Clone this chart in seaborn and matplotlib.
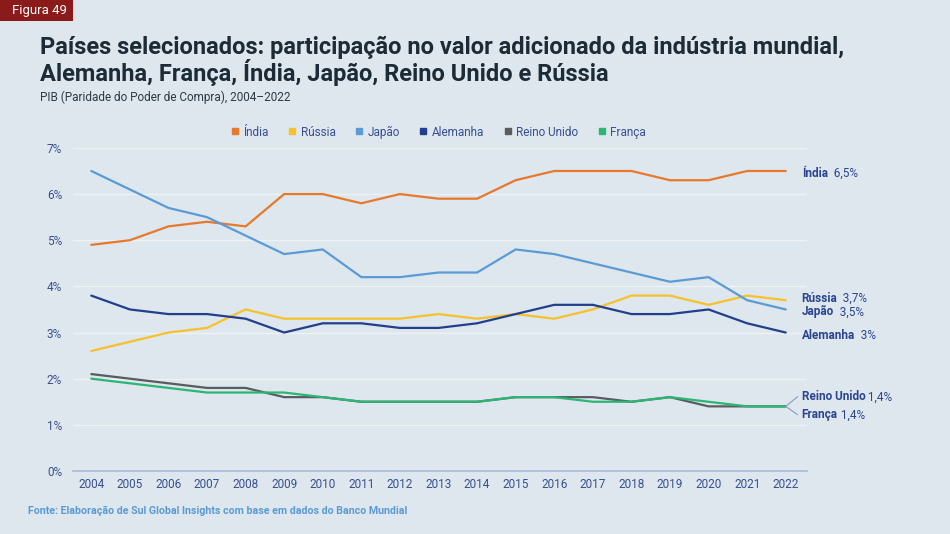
import pandas as pd
import seaborn as sns
import matplotlib.pyplot as plt
from matplotlib.patches import Rectangle
from matplotlib.lines import Line2D

anos = list(range(2004, 2023))
india = [4.9, 5.0, 5.3, 5.4, 5.3, 6.0, 6.0, 5.8, 6.0, 5.9, 5.9, 6.3, 6.5, 6.5, 6.5, 6.3, 6.3, 6.5, 6.5]
russia = [2.6, 2.8, 3.0, 3.1, 3.5, 3.3, 3.3, 3.3, 3.3, 3.4, 3.3, 3.4, 3.3, 3.5, 3.8, 3.8, 3.6, 3.8, 3.7]
japao = [6.5, 6.1, 5.7, 5.5, 5.1, 4.7, 4.8, 4.2, 4.2, 4.3, 4.3, 4.8, 4.7, 4.5, 4.3, 4.1, 4.2, 3.7, 3.5]
alemanha = [3.8, 3.5, 3.4, 3.4, 3.3, 3.0, 3.2, 3.2, 3.1, 3.1, 3.2, 3.4, 3.6, 3.6, 3.4, 3.4, 3.5, 3.2, 3.0]
reino_unido = [2.1, 2.0, 1.9, 1.8, 1.8, 1.6, 1.6, 1.5, 1.5, 1.5, 1.5, 1.6, 1.6, 1.6, 1.5, 1.6, 1.4, 1.4, 1.4]
franca = [2.0, 1.9, 1.8, 1.7, 1.7, 1.7, 1.6, 1.5, 1.5, 1.5, 1.5, 1.6, 1.6, 1.5, 1.5, 1.6, 1.5, 1.4, 1.4]

paises = ['Índia', 'Rússia', 'Japão', 'Alemanha', 'Reino Unido', 'França']
cores = ['#e8782a', '#f6c12a', '#5b9bd5', '#213f8c', '#575d61', '#2bb673']
series = [india, russia, japao, alemanha, reino_unido, franca]
rotulos_fim = ['6,5%', '3,7%', '3,5%', '3%', '1,4%', '1,4%']

bg = '#dde7ed'
azul_txt = '#3a4f8f'
sns.set_style('white')
plt.rcParams['font.family'] = ['Roboto', 'DejaVu Sans']

df = pd.DataFrame({
    'ano': anos * len(paises),
    'valor': [v for s in series for v in s],
    'pais': [p for p in paises for _ in anos],
})

fig = plt.figure(figsize=(9.5, 5.34), dpi=100, facecolor=bg)
ax = fig.add_axes([0.077, 0.118, 0.772, 0.605])
ax.set_facecolor(bg)

sns.lineplot(data=df, x='ano', y='valor', hue='pais', hue_order=paises,
             palette=dict(zip(paises, cores)), linewidth=1.6, ax=ax, legend=False)

ax.set_xlim(2003.53, 2022.54)
ax.set_ylim(0, 7)
ax.set_xticks(anos)
ax.set_xticklabels([str(a) for a in anos])
ax.set_yticks(range(0, 8))
ax.set_yticklabels([f'{i}%' for i in range(0, 8)])
ax.tick_params(axis='both', length=0, labelsize=8.5, labelcolor=azul_txt)
ax.tick_params(axis='y', pad=8)
ax.tick_params(axis='x', pad=5)
ax.set_xlabel('')
ax.set_ylabel('')
ax.grid(axis='y', color='#eef2f5', linewidth=1)
for s in ['top', 'right', 'left']:
    ax.spines[s].set_visible(False)
ax.spines['bottom'].set_color('#a9b9d8')
ax.spines['bottom'].set_linewidth(1.2)
ax.set_axisbelow(True)

# rótulos no fim das linhas
offsets = [-1.5, 1.5, -1.8, -2.2, 6.8, -6.1]
for p, serie, txt, off in zip(paises, series, rotulos_fim, offsets):
    y = serie[-1]
    t = ax.annotate(p, xy=(2022, y), xytext=(11.5, off), textcoords='offset points',
                    fontsize=8.5, fontweight='bold', color='#2b4590', va='center',
                    annotation_clip=False)
    sep = ' ' if p in ('Reino Unido', 'França') else '  '
    ax.annotate(sep + txt, xy=(1, 0.5), xycoords=t, fontsize=8.5, color='#2b4590',
                va='center', ha='left', annotation_clip=False)
for off in [7.0, -6.0]:
    ax.annotate('', xy=(2022, 1.4), xytext=(8.6, off), textcoords='offset points',
                arrowprops=dict(arrowstyle='-', color='#8a9cc2', lw=0.8, shrinkA=0, shrinkB=0),
                annotation_clip=False)

# legenda
handles = [Line2D([], [], marker='s', linestyle='', color=c, markersize=5) for c in cores]
fig.legend(handles, paises, loc='center', bbox_to_anchor=(438 / 950, 1 - 132 / 534), ncol=6,
           frameon=False, fontsize=8.5, handletextpad=0.3, columnspacing=1.6,
           labelcolor=azul_txt, handlelength=0.8)

# títulos
fig.patches.append(Rectangle((0, 1 - 21 / 534), 73 / 950, 21 / 534, transform=fig.transFigure,
                             facecolor='#8b1a1a', edgecolor='none'))
fig.text(12 / 950, 1 - 10.5 / 534, 'Figura 49', color='white', fontsize=9.5, va='center')
fig.text(40 / 950, 1 - 47 / 534,
         'Países selecionados: participação no valor adicionado da indústria mundial,',
         fontsize=17, fontweight='bold', color='#1d2b36', va='center')
fig.text(40 / 950, 1 - 73 / 534, 'Alemanha, França, Índia, Japão, Reino Unido e Rússia',
         fontsize=17, fontweight='bold', color='#1d2b36', va='center')
fig.text(40 / 950, 1 - 97 / 534, 'PIB (Paridade do Poder de Compra), 2004–2022',
         fontsize=8.5, color='#2d3a45', va='center')
fig.text(28 / 950, 1 - 511 / 534,
         'Fonte: Elaboração de Sul Global Insights com base em dados do Banco Mundial',
         fontsize=7.65, fontweight='bold', color='#5b9bd5', va='center')

plt.savefig('out.png', dpi=100, facecolor=bg)
